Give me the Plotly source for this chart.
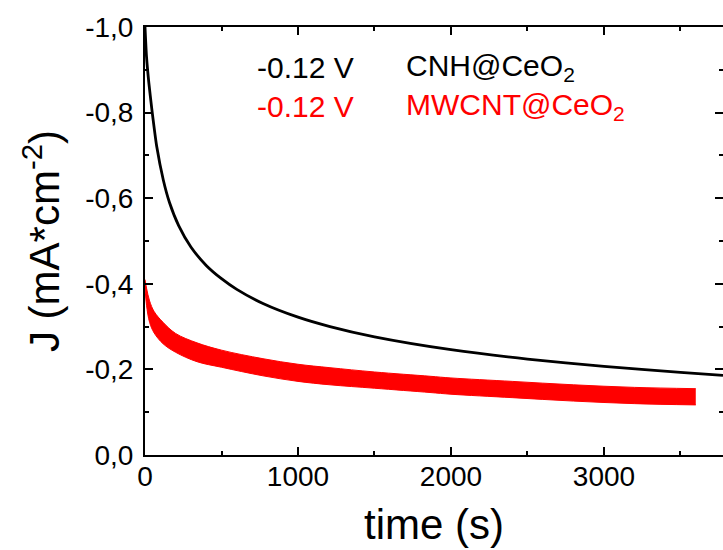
import plotly.graph_objects as go

# ---- data ----
cnh_t = [0, 10, 25, 44, 77, 120, 160, 220, 300, 400, 500, 600, 771, 1000, 1209, 1500,
         2000, 2500, 3000, 3500, 3778]
cnh_j = [-1.0, -0.93, -0.87, -0.81, -0.72, -0.642, -0.59, -0.536, -0.486, -0.443,
         -0.412, -0.387, -0.354, -0.322, -0.300, -0.276, -0.246, -0.224, -0.207,
         -0.193, -0.186]

mw_t = [0, 10, 30, 60, 118, 200, 340, 500, 771, 1000, 1209, 1500, 1863, 2000, 2400,
        2800, 3200, 3600]
mw_upper = [-0.41, -0.39, -0.36, -0.335, -0.31, -0.284, -0.262, -0.245, -0.225, -0.212,
            -0.204, -0.194, -0.184, -0.18, -0.172, -0.164, -0.158, -0.155]
mw_lower = [-0.39, -0.35, -0.31, -0.285, -0.26, -0.24, -0.218, -0.205, -0.185, -0.172,
            -0.164, -0.156, -0.146, -0.142, -0.134, -0.126, -0.12, -0.117]

x_ticks = [0, 1000, 2000, 3000]
x_minor = [500, 1500, 2500, 3500]
y_ticks = [0.0, -0.2, -0.4, -0.6, -0.8, -1.0]
y_ticktext = ["0,0", "-0,2", "-0,4", "-0,6", "-0,8", "-1,0"]
y_minor = [-0.1, -0.3, -0.5, -0.7, -0.9]

legend_volt = ["-0.12 V", "-0.12 V"]
legend_name = ["CNH@CeO<sub>2</sub>", "MWCNT@CeO<sub>2</sub>"]
legend_color = ["black", "#ff0000"]

x_range = [0, 3778]
y_range = [0, -1.0]

FONT = "Liberation Sans, Arial, sans-serif"

fig = go.Figure()
fig.add_trace(go.Scatter(x=mw_t, y=mw_lower, mode="lines", line_shape="spline",
                         line=dict(color="#ff0000", width=1), showlegend=False))
fig.add_trace(go.Scatter(x=mw_t, y=mw_upper, mode="lines", line_shape="spline",
                         fill="tonexty", fillcolor="#ff0000",
                         line=dict(color="#ff0000", width=1), showlegend=False))
fig.add_trace(go.Scatter(x=cnh_t, y=cnh_j, mode="lines", line_shape="spline",
                         line=dict(color="black", width=2.8, smoothing=0.6),
                         yaxis="y2", showlegend=False))

for i in range(2):
    yy = 0.905 - i * 0.09
    fig.add_annotation(xref="paper", yref="paper", x=0.19, y=yy, xanchor="left",
                       yanchor="middle", text=legend_volt[i], showarrow=False,
                       font=dict(size=30, color=legend_color[i], family=FONT))
    fig.add_annotation(xref="paper", yref="paper", x=0.448, y=yy, xanchor="left",
                       yanchor="middle", text=legend_name[i], showarrow=False,
                       font=dict(size=30, color=legend_color[i], family=FONT))

axis_common = dict(showgrid=False, zeroline=False, ticks="inside", ticklen=8,
                   tickwidth=2, tickcolor="black")

fig.update_layout(
    width=723, height=550,
    margin=dict(l=145, r=0, t=27, b=95),
    plot_bgcolor="white", paper_bgcolor="white",
    font=dict(family=FONT, size=28, color="black"),
    xaxis=dict(range=x_range, tickvals=x_ticks, showline=True, mirror="ticks",
               linecolor="black", linewidth=2,
               minor=dict(ticks="inside", ticklen=4, tickwidth=2, tickcolor="black",
                          tickvals=x_minor),
               title=dict(text="time (s)", font=dict(size=42), standoff=19),
               tickfont=dict(size=28), ticklabelstandoff=-5, **axis_common),
    yaxis=dict(range=y_range, tickvals=y_ticks, ticktext=y_ticktext, showline=True,
               mirror=False, linecolor="black", linewidth=2,
               minor=dict(ticks="inside", ticklen=4, tickwidth=2, tickcolor="black",
                          tickvals=y_minor),
               title=dict(text="J (mA*cm<sup>-2</sup>)", font=dict(size=42), standoff=12),
               tickfont=dict(size=28), ticklabelstandoff=4, **axis_common),
    yaxis2=dict(range=y_range, tickvals=y_ticks, overlaying="y", side="right",
                anchor="x", showline=False, showticklabels=False,
                minor=dict(ticks="inside", ticklen=4, tickwidth=2, tickcolor="black",
                           tickvals=y_minor),
                **axis_common),
)

fig.write_html("out.html", config={"displayModeBar": False},
               post_script="document.body.style.margin='0';"
                           "document.body.style.overflow='hidden';")
